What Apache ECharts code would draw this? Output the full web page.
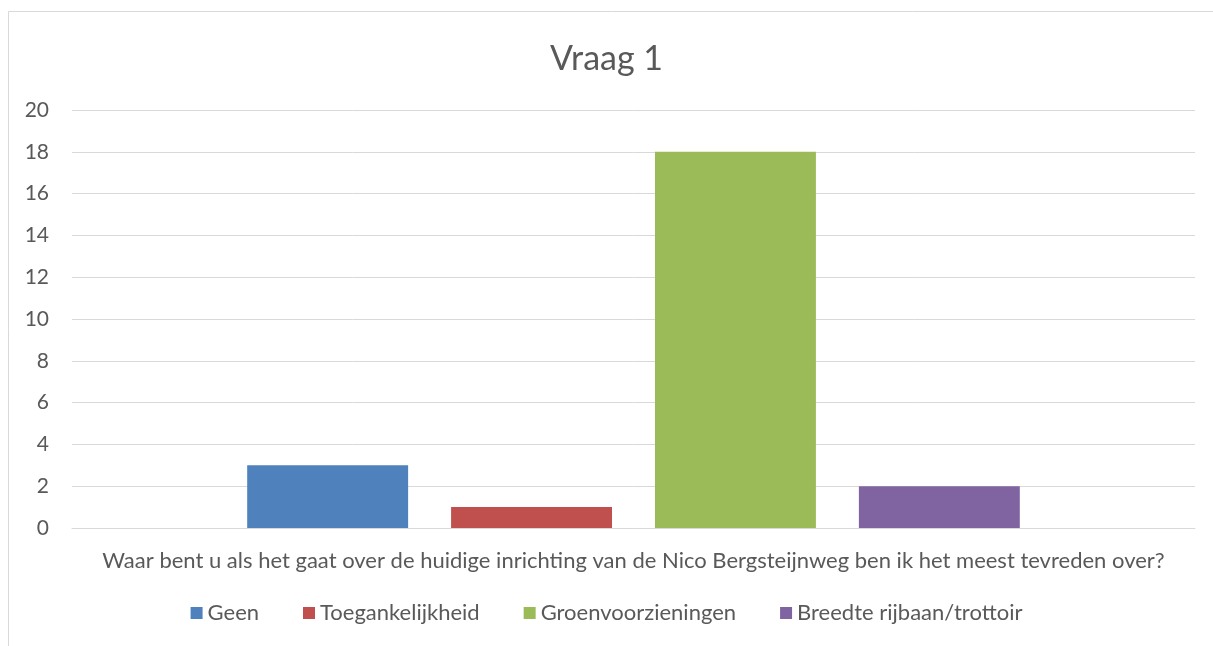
<!DOCTYPE html>
<html>
<head>
<meta charset="utf-8">
<script src="https://cdn.jsdelivr.net/npm/echarts@6/dist/echarts.min.js"></script>
<style>
html, body { margin: 0; padding: 0; background: #fff; }
#main { width: 1213px; height: 646px; }
</style>
</head>
<body>
<div id="main"></div>
<script>
var categories = ['Waar bent u als het gaat over de huidige inrichting van de Nico Bergsteijnweg ben ik het meest tevreden over?'];
var seriesNames = ['Geen', 'Toegankelijkheid', 'Groenvoorzieningen', 'Breedte rijbaan/trottoir'];
var geen = [3];
var toegankelijkheid = [1];
var groenvoorzieningen = [18];
var breedte = [2];
var seriesValues = [geen, toegankelijkheid, groenvoorzieningen, breedte];
var colors = ['#4f81bd', '#c0504d', '#9bbb59', '#8064a2'];

var dom = document.getElementById('main');
var myChart = echarts.init(dom);
var fontFam = 'Lato, Open Sans, sans-serif';

var series = [];
for (var i = 0; i < seriesNames.length; i++) {
    series.push({
        name: seriesNames[i],
        type: 'bar',
        data: seriesValues[i],
        barGap: '26.7%',
        barCategoryGap: '31.2%',
        itemStyle: { color: colors[i] }
    });
}

var option = {
    color: colors,
    animation: false,
    graphic: [{
        type: 'rect',
        shape: { x: 8.5, y: 11.5, width: 1300, height: 700 },
        style: { fill: 'none', stroke: '#d9d9d9', lineWidth: 1 },
        silent: true
    }],
    title: {
        text: 'Vraag 1',
        left: 'center',
        top: 37,
        textStyle: { fontFamily: fontFam, fontSize: 34, fontWeight: 'normal', color: '#595959' }
    },
    legend: {
        data: seriesNames,
        bottom: 17,
        left: 'center',
        icon: 'rect',
        itemWidth: 12,
        itemHeight: 12,
        itemGap: 44,
        textStyle: { fontFamily: fontFam, fontSize: 22, color: '#595959' }
    },
    grid: { left: 72, right: 18, top: 110, bottom: 118 },
    xAxis: {
        type: 'category',
        data: categories,
        axisLine: { show: true, lineStyle: { color: '#d9d9d9', width: 1 } },
        axisTick: { show: false },
        axisLabel: { margin: 22, fontFamily: fontFam, fontSize: 22, color: '#595959' }
    },
    yAxis: {
        type: 'value',
        min: 0,
        max: 20,
        interval: 2,
        axisLine: { show: false },
        axisTick: { show: false },
        splitLine: { show: true, lineStyle: { color: '#d9d9d9', width: 1 } },
        axisLabel: { margin: 23, fontFamily: fontFam, fontSize: 21, color: '#595959' }
    },
    series: series
};
myChart.setOption(option, true);
window.addEventListener('resize', function () { myChart.resize(); });
</script>
</body>
</html>
